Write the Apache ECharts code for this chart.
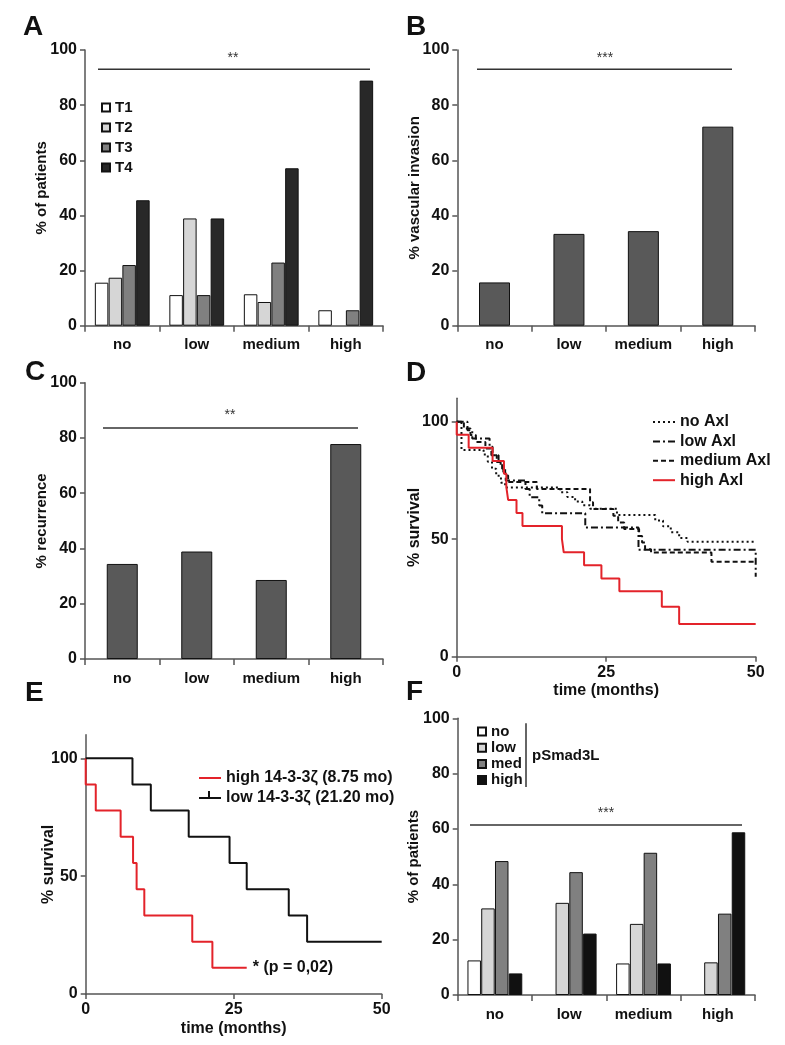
<!DOCTYPE html>
<html><head><meta charset="utf-8">
<script src="https://cdn.jsdelivr.net/npm/echarts@6/dist/echarts.min.js"></script>
<style>html,body{margin:0;padding:0;background:#fff}#c{width:785px;height:1045px}</style>
</head><body><div id="c"></div><script>
// ---------- data ----------
const categories = ['no', 'low', 'medium', 'high'];
// Panel A: T stage (% of patients)
const t1 = [15.6, 11.1, 11.4, 5.6];
const t2 = [17.4, 38.9, 8.6, 0];
const t3 = [22.0, 11.1, 22.9, 5.6];
const t4 = [45.5, 38.9, 57.1, 88.9];
// Panel B: % vascular invasion
const vascular = [15.7, 33.3, 34.3, 72.2];
// Panel C: % recurrence
const recurrence = [34.4, 38.9, 28.6, 77.8];
// Panel F: pSmad3L (% of patients)
const smadNo = [12.5, 0, 11.4, 0];
const smadLow = [31.3, 33.3, 25.7, 11.8];
const smadMed = [48.4, 44.4, 51.4, 29.4];
const smadHigh = [7.8, 22.2, 11.4, 58.8];
// Panel D: Kaplan-Meier [months, % survival]
const noAxl = [[0,100],[0.8,88],[4.5,86],[5.2,83],[5.9,80],[6.6,77],[7.4,74],[8.1,72],[17.3,70],[18.5,68],[19.8,66],[21,64.5],[22.3,63],[26.8,60.3],[33.2,58],[34.5,55.5],[35.8,53],[37.2,50.5],[38.6,48.9],[50,48.9]];
const lowAxl = [[0,100],[1.8,96.4],[2.6,92.9],[5.5,89.3],[6,85.7],[7,82.1],[7.8,78.6],[8.2,75],[11.5,71.4],[12.2,67.9],[13.8,64.3],[14.3,61],[21.5,55],[30.4,45.5],[50,45.5],[50,34]];
const mediumAxl = [[0,100],[1.2,97.1],[2.3,94.3],[3.2,91.4],[4.8,88.6],[5.8,85.7],[6.7,82.9],[7.6,80],[8.1,77.1],[8.6,74.3],[13.4,71.4],[22.3,65.7],[22.8,62.9],[26.2,60],[27,57.1],[28,54.3],[30.5,51.4],[31,48.6],[31.5,45.7],[32.5,44.3],[42.6,40.4],[50,40.4]];
const highAxl = [[0,100],[0,94.4],[2,88.9],[6,83.3],[7.9,77.8],[8.3,72.2],[8.6,66.7],[10,61.1],[11,55.6],[17.6,50],[17.9,44.4],[21.3,38.9],[24.2,33.3],[27.2,27.8],[34.3,21.3],[37.2,13.9],[50,13.9]];
// Panel E: Kaplan-Meier [months, % survival]
const high1433z = [[0,100],[0,88.9],[1.7,77.8],[5.9,66.7],[8.0,55.6],[8.6,44.4],[9.9,33.3],[18.0,22.2],[21.4,11.1],[27.2,11.1]];
const low1433z = [[0,100],[7.9,88.9],[11.0,77.8],[17.4,66.7],[24.3,55.6],[27.2,44.4],[34.3,33.3],[37.4,22.2],[50,22.2]];
const survivalTicks = [0, 50, 100];

// ---------- styling helpers ----------
const FF = '"Liberation Sans", Arial, Helvetica, sans-serif';
const AX = '#555';
const RED = '#e3232a';
const lab = (size) => ({color:'#111', fontWeight:'bold', fontSize:size, fontFamily:FF});

function catX(gi){
  return {type:'category', gridIndex:gi, data:categories,
    axisLine:{show:true, lineStyle:{color:AX, width:1.5}},
    axisTick:{show:true, length:6, lineStyle:{color:AX, width:1.5}},
    axisLabel:Object.assign(lab(15), {margin:12, interval:0}),
    splitLine:{show:false}};
}
function pctY(gi, name, gap){
  return {type:'value', gridIndex:gi, min:0, max:100, interval:20,
    name:name, nameLocation:'middle', nameGap:gap, nameRotate:90, nameMoveOverlap:false, nameTextStyle:lab(15),
    axisLine:{show:true, lineStyle:{color:AX, width:1.5}},
    axisTick:{show:true, length:5, lineStyle:{color:AX, width:1.5}},
    axisLabel:Object.assign(lab(16), {margin:8}),
    splitLine:{show:false}};
}
function timeX(gi, gap){
  return {type:'value', gridIndex:gi, min:0, max:50, interval:25,
    name:'time (months)', nameLocation:'middle', nameGap:gap, nameMoveOverlap:false, nameTextStyle:lab(16),
    axisLine:{show:true, onZero:false, lineStyle:{color:AX, width:1.5}},
    axisTick:{show:true, length:5, lineStyle:{color:AX, width:1.5}},
    axisLabel:Object.assign(lab(16), {margin:8}),
    splitLine:{show:false}};
}
function survY(gi, gap){
  return {type:'value', gridIndex:gi, min:0, max:110, interval:50,
    name:'% survival', nameLocation:'middle', nameGap:gap, nameRotate:90, nameMoveOverlap:false, nameTextStyle:lab(16),
    axisLine:{show:true, lineStyle:{color:AX, width:1.5}},
    axisTick:{show:true, length:5, customValues:survivalTicks, lineStyle:{color:AX, width:1.5}},
    axisLabel:Object.assign(lab(16), {margin:8, customValues:survivalTicks}),
    splitLine:{show:false}};
}
function bar(name, data, gi, color, width){
  return {type:'bar', name:name,
    data:data.map(v => v === 0 ? {value:0, itemStyle:{borderWidth:0}} : v),
    xAxisIndex:gi, yAxisIndex:gi,
    barWidth:width, barGap:'2%', itemStyle:{color:color, borderColor:'#111', borderWidth:1},
    emphasis:{disabled:true}, animation:false, silent:true};
}
function km(name, data, gi, color, type){
  return {type:'line', name:name, data:data, xAxisIndex:gi, yAxisIndex:gi,
    step:'end', symbol:'none', lineStyle:{color:color, width:2, type:type},
    itemStyle:{color:color}, animation:false, silent:true, emphasis:{disabled:true}};
}
function legendBase(extra){
  return Object.assign({orient:'vertical', selectedMode:false, padding:0,
    textStyle:Object.assign(lab(15), {lineHeight:15})}, extra);
}

const option = {
  backgroundColor:'#fff',
  animation:false,
  grid:[
    {left:85, top:50, width:298, height:275.7},
    {left:457.3, top:50, width:297.7, height:275.7},
    {left:85, top:382.7, width:298, height:276.3},
    {left:456.7, top:398.2, width:299, height:258.5},
    {left:85.7, top:734.7, width:296, height:259.3},
    {left:457.7, top:718.3, width:297.3, height:276.7}
  ],
  xAxis:[catX(0), catX(1), catX(2), timeX(3,26), timeX(4,27), catX(5)],
  yAxis:[pctY(0,'% of patients',36), pctY(1,'% vascular invasion',35), pctY(2,'% recurrence',36),
         survY(3,34), survY(4,29), pctY(5,'% of patients',36)],
  legend:[
    legendBase({data:['T1','T2','T3','T4'], left:101, top:100, itemWidth:8, itemHeight:8, itemGap:5, icon:'rect'}),
    legendBase({data:['no Axl','low Axl','medium Axl','high Axl'], left:652, top:414, itemWidth:22, itemHeight:10, itemGap:3.4,
      itemStyle:{opacity:0}, textStyle:Object.assign(lab(16), {lineHeight:16})}),
    legendBase({data:['high 14-3-3ζ (8.75 mo)','low 14-3-3ζ (21.20 mo)'], left:198, top:770, itemWidth:22, itemHeight:10, itemGap:4,
      itemStyle:{opacity:0}, textStyle:Object.assign(lab(16), {lineHeight:16})}),
    legendBase({data:['no','low','med','high'], left:477, top:724, itemWidth:8, itemHeight:8, itemGap:1.2, icon:'rect'})
  ],
  series:[
    bar('T1', t1, 0, '#ffffff', 13.5),
    bar('T2', t2, 0, '#d6d6d6', 13.5),
    bar('T3', t3, 0, '#808080', 13.5),
    bar('T4', t4, 0, '#282828', 13.5),
    bar('vascular invasion', vascular, 1, '#595959', 31),
    bar('recurrence', recurrence, 2, '#595959', 31),
    km('no Axl', noAxl, 3, '#111', [2,3]),
    km('low Axl', lowAxl, 3, '#111', [7,3,2,3]),
    km('medium Axl', mediumAxl, 3, '#111', [5,3]),
    km('high Axl', highAxl, 3, RED, 'solid'),
    km('high 14-3-3ζ (8.75 mo)', high1433z, 4, RED, 'solid'),
    km('low 14-3-3ζ (21.20 mo)', low1433z, 4, '#111', 'solid'),
    bar('no', smadNo, 5, '#ffffff', 13.5),
    bar('low', smadLow, 5, '#d6d6d6', 13.5),
    bar('med', smadMed, 5, '#808080', 13.5),
    bar('high', smadHigh, 5, '#111111', 13.5)
  ]
};

const chart = echarts.init(document.getElementById('c'), null, {renderer:'canvas'});
chart.setOption(option);

// ---------- annotations ----------
const yPix = (gi, v) => chart.convertToPixel({yAxisIndex:gi}, v);
const g = [];
function letter(t, x, y){ g.push({type:'text', x:x, y:y, style:{text:t, fill:'#111', font:'bold 28px '+FF, textAlign:'left', textVerticalAlign:'middle'}}); }
function sig(gi, x1, x2, v, stars, sx, sv){
  const y = yPix(gi, v);
  g.push({type:'line', shape:{x1:x1, y1:y, x2:x2, y2:y}, style:{stroke:'#333', lineWidth:1.5}});
  g.push({type:'text', x:sx, y:yPix(gi, sv), style:{text:stars, fill:'#333', font:'14px '+FF, textAlign:'center', textVerticalAlign:'middle'}});
}
letter('A', 23, 27); letter('B', 406, 27); letter('C', 25, 372);
letter('D', 406, 373); letter('E', 25, 693); letter('F', 406, 692);
sig(0, 98, 370, 93, '**', 233, 97.2);
sig(1, 477, 732, 93, '***', 605, 97.2);
sig(2, 103, 358, 83.6, '**', 230, 88.3);
sig(5, 470, 742, 61.4, '***', 606, 65.9);
// pSmad3L bracket
g.push({type:'line', shape:{x1:526, y1:yPix(5, 98.2), x2:526, y2:yPix(5, 75.2)}, style:{stroke:'#333', lineWidth:1.5}});
g.push({type:'text', x:532, y:yPix(5, 86.5), style:{text:'pSmad3L', fill:'#111', font:'bold 15px '+FF, textAlign:'left', textVerticalAlign:'middle'}});
// censor tick in the "low 14-3-3ζ" legend key
g.push({type:'line', shape:{x1:209, y1:791, x2:209, y2:798}, style:{stroke:'#111', lineWidth:2}});
// p-value label after end of high 14-3-3ζ curve
const endPt = chart.convertToPixel({gridIndex:4}, high1433z[high1433z.length-1]);
g.push({type:'text', x:endPt[0]+6, y:endPt[1], style:{text:'* (p = 0,02)', fill:'#111', font:'bold 16px '+FF, textAlign:'left', textVerticalAlign:'middle'}});
chart.setOption({graphic:g});
</script></body></html>
